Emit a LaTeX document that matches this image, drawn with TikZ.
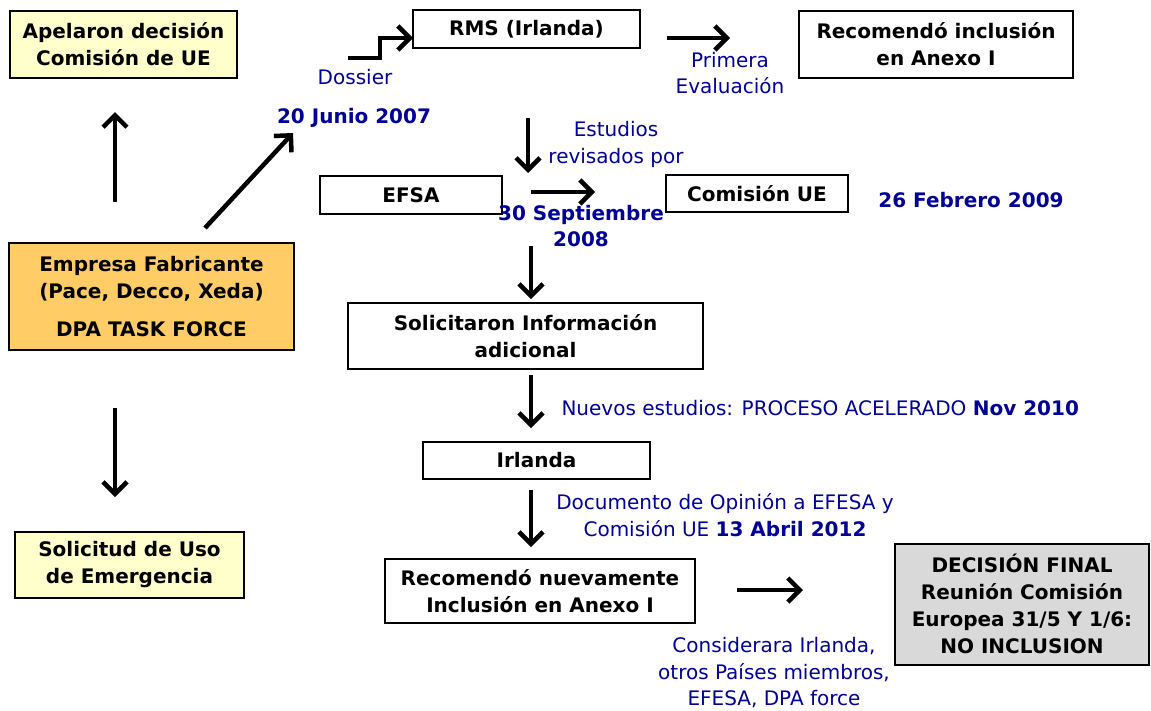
\documentclass[tikz,border=0pt]{standalone}
\usepackage{fontspec}
\setmainfont{DejaVu Sans}
\usetikzlibrary{arrows.meta}
\definecolor{azul}{RGB}{0,0,150}
\definecolor{crema}{RGB}{255,255,204}
\definecolor{naranja}{RGB}{255,204,102}
\definecolor{gris}{RGB}{217,217,217}

\begin{document}
\begin{tikzpicture}[x=1pt, y=-1pt,
    caja/.style={draw=black, line width=2pt, align=center, inner sep=0pt,
        font=\bfseries\fontsize{20}{27}\selectfont},
    nota/.style={text=azul, align=center, font=\fontsize{20}{26.5}\selectfont},
    fecha/.style={text=azul, align=center, font=\bfseries\fontsize{20}{26}\selectfont},
    flecha/.style={line width=4.5pt, -{Straight Barb[length=12pt,width=24pt]}}]
    \useasboundingbox (0,0) rectangle (1151,710);
    % cajas
    \node[caja, fill=crema, minimum width=227, minimum height=67] (apel) at (123.5,44.5) {Apelaron decisión\\Comisión de UE};
    \node[caja, fill=naranja, minimum width=285, minimum height=107] (emp) at (151.5,296.5) {Empresa Fabricante\\(Pace, Decco, Xeda)\\[11pt]DPA TASK FORCE};
    \node[caja, fill=crema, minimum width=229, minimum height=66] (sol) at (129.5,565) {Solicitud de Uso\\de Emergencia};
    \node[caja, minimum width=227, minimum height=38] (rms) at (526.5,29) {RMS (Irlanda)};
    \node[caja, minimum width=274, minimum height=67] (reco) at (936,44.5) {Recomendó inclusión\\en Anexo I};
    \node[caja, minimum width=182, minimum height=38] (efsa) at (411,195) {EFSA};
    \node[caja, minimum width=182, minimum height=37] (comi) at (757,193.5) {Comisión UE};
    \node[caja, minimum width=355, minimum height=66] (soli) at (525.5,336) {Solicitaron Información\\adicional};
    \node[caja, minimum width=227, minimum height=37] (irl) at (536.5,460.5) {Irlanda};
    \node[caja, minimum width=310, minimum height=64] (reco2) at (540,591) {Recomendó nuevamente\\Inclusión en Anexo I};
    \node[caja, fill=gris, minimum width=254, minimum height=121] (final) at (1022,604) {DECISIÓN FINAL\\Reunión Comisión\\Europea 31/5 Y 1/6:\\NO INCLUSION};
    % textos
    \node[nota] (dos) at (355,77) {Dossier};
    \node[fecha] (jun) at (354,118) {20 Junio 2007};
    \node[nota] (prim) at (730,73) {Primera\\Evaluación};
    \node[nota] (est) at (616,144.5) {Estudios\\revisados por};
    \node[fecha] (sep) at (581,226) {30 Septiembre\\2008};
    \node[fecha] (feb) at (971,200) {26 Febrero 2009};
    \node[nota, anchor=west] (nuev) at (558,408) {Nuevos estudios: PROCESO ACELERADO \textbf{Nov 2010}};
    \node[nota] (doc) at (725,515) {Documento de Opinión a EFESA y\\Comisión UE \textbf{13 Abril 2012}};
    \node[nota] (cons) at (774,673) {Considerara Irlanda,\\otros Países miembros,\\EFESA, DPA force};
    % flechas
    \coordinate (a1) at (115,202); \coordinate (b1) at (115,112);
    \coordinate (a2) at (115,408); \coordinate (b2) at (115,497);
    \coordinate (a3) at (205,228); \coordinate (b3) at (293,133);
    \coordinate (a4) at (348,58);  \coordinate (b4) at (413,38);
    \coordinate (a5) at (667,38);  \coordinate (b5) at (730,38);
    \coordinate (a6) at (528,118); \coordinate (b6) at (528,173);
    \coordinate (a7) at (531,192); \coordinate (b7) at (595,192);
    \coordinate (a8) at (531,246); \coordinate (b8) at (531,299);
    \coordinate (a9) at (531,375); \coordinate (b9) at (531,428);
    \coordinate (a10) at (531,490); \coordinate (b10) at (531,547);
    \coordinate (a11) at (737,590); \coordinate (b11) at (803,590);
    \draw[flecha] (a1) -- (b1);
    \draw[flecha] (a2) -- (b2);
    \draw[flecha] (a3) -- (b3);
    \draw[flecha] (a4) -- (380,58) -- (380,38) -- (b4);
    \draw[flecha] (a5) -- (b5);
    \draw[flecha] (a6) -- (b6);
    \draw[flecha] (a7) -- (b7);
    \draw[flecha] (a8) -- (b8);
    \draw[flecha] (a9) -- (b9);
    \draw[flecha] (a10) -- (b10);
    \draw[flecha] (a11) -- (b11);
\end{tikzpicture}
\end{document}
